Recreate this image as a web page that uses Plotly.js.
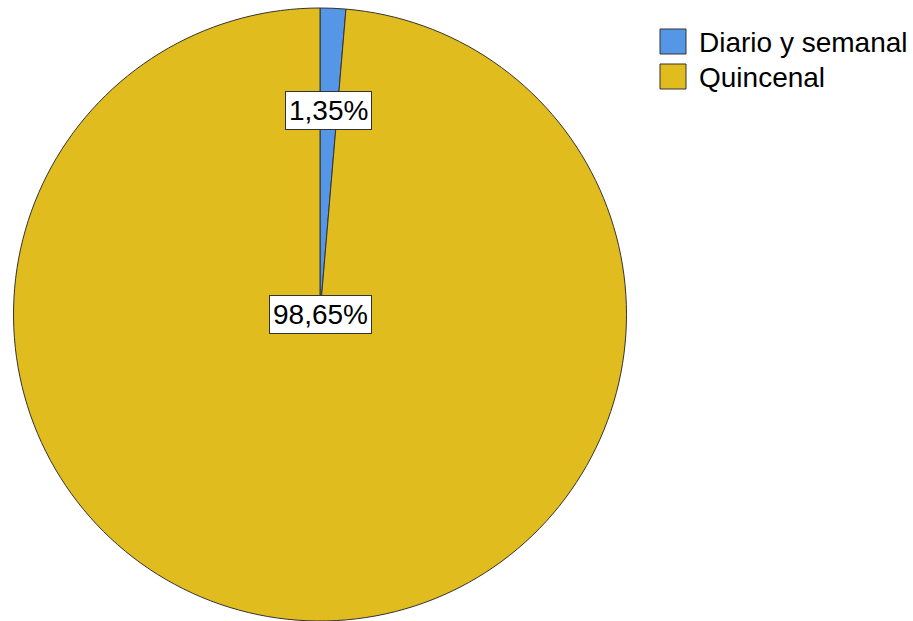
<!DOCTYPE html>
<html>
<head>
<meta charset="utf-8">
<script src="https://cdn.plot.ly/plotly-3.0.1.min.js"></script>
<style>html,body{margin:0;padding:0;background:#fff;}#chart{width:913px;height:621px;}</style>
</head>
<body>
<div id="chart"></div>
<script>
const categories = ["Diario y semanal", "Quincenal"];
const percentages = [1.35, 98.65];
const sliceColors = ["#5596E6", "#E1BC1E"];

const W = 913, H = 621;
const dom = {x: [10 / W, 630 / W], y: [0, 613 / H]};
const labelRadiusFrac = [0.665, 0];
const FONT = "Liberation Sans, Arial, sans-serif";

const fmt = v => v.toFixed(2).replace(".", ",") + "%";

// label positions derived from the data (clockwise from 12 o'clock)
const total = percentages.reduce((a, b) => a + b, 0);
const cx = (dom.x[0] + dom.x[1]) / 2 * W;
const cy = (dom.y[0] + dom.y[1]) / 2 * H;
const R = Math.min((dom.x[1] - dom.x[0]) * W, (dom.y[1] - dom.y[0]) * H) / 2;
let cum = 0;
const annotations = percentages.map((v, i) => {
  const mid = (cum + v / 2) / total * 2 * Math.PI;
  cum += v;
  const r = labelRadiusFrac[i] * R;
  return {
    xref: "paper", yref: "paper",
    x: (cx + r * Math.sin(mid)) / W,
    y: (cy + r * Math.cos(mid)) / H,
    text: fmt(v), showarrow: false,
    font: {family: FONT, size: 28, color: "#000"},
    bgcolor: "#ffffff", bordercolor: "#333333", borderwidth: 1, borderpad: 3,
    xanchor: "center", yanchor: "middle"
  };
});

// legend (swatches + text)
const shapes = [];
const legX = 660, legY0 = 29, legStep = 35, sw = 26, sh = 25;
categories.forEach((c, i) => {
  const top = legY0 + i * legStep;
  shapes.push({
    type: "rect", xref: "paper", yref: "paper",
    x0: legX / W, x1: (legX + sw) / W,
    y0: 1 - (top + sh) / H, y1: 1 - top / H,
    fillcolor: sliceColors[i], line: {color: "#333333", width: 1}
  });
  annotations.push({
    xref: "paper", yref: "paper",
    x: 697 / W, y: 1 - (top + sh / 2 + 1) / H,
    xanchor: "left", yanchor: "middle", showarrow: false,
    text: c, font: {family: FONT, size: 28, color: "#000"}
  });
});

const trace = {
  type: "pie",
  labels: categories,
  values: percentages,
  sort: false,
  direction: "clockwise",
  rotation: 0,
  textinfo: "none",
  hoverinfo: "label+percent",
  marker: {colors: sliceColors, line: {color: "#333333", width: 1}},
  domain: dom
};

const layout = {
  width: W, height: H,
  margin: {l: 0, r: 0, t: 0, b: 0},
  paper_bgcolor: "#fff",
  showlegend: false,
  shapes: shapes,
  annotations: annotations
};

Plotly.newPlot("chart", [trace], layout, {displayModeBar: false, staticPlot: true});
</script>
</body>
</html>
